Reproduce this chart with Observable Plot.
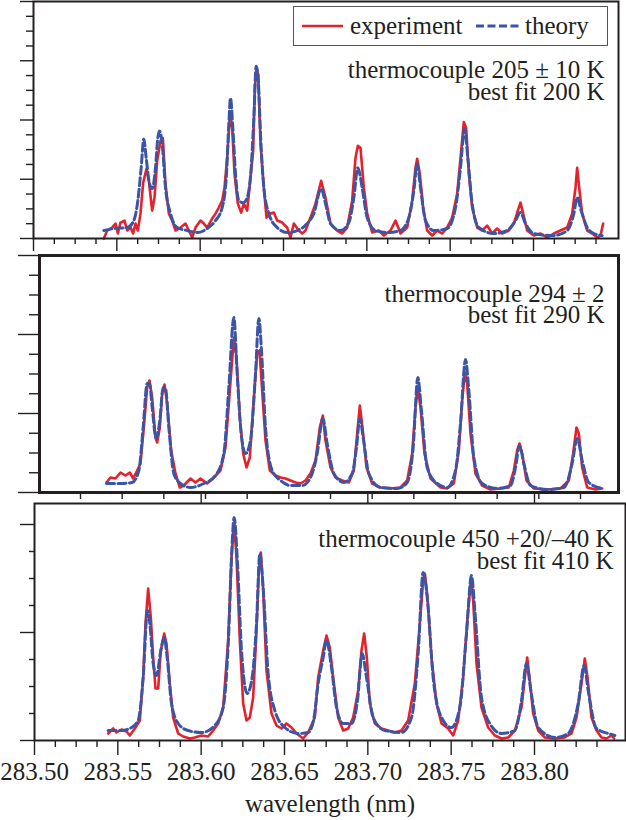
<!DOCTYPE html>
<html><head><meta charset="utf-8">
<script src="https://cdn.jsdelivr.net/npm/d3@7"></script>
<script src="https://cdn.jsdelivr.net/npm/@observablehq/plot@0.6"></script>
<style>
body{margin:0;background:#fff;}
#fig{position:relative;width:626px;height:820px;overflow:hidden;font-family:"Liberation Serif",serif;background:#fff;}
</style></head><body><div id="fig"></div>
<script>
// ---- data: [wavelength (nm), intensity (a.u.)] ----
const expA = [[283.5422,0],[283.5442,8],[283.5472,11],[283.5492,15],[283.5506,5],[283.5522,16],[283.5546,18],[283.5562,8],[283.5582,11],[283.5598,5],[283.5612,15],[283.5626,8],[283.5642,25],[283.5658,56],[283.5678,70],[283.5692,58],[283.5712,28],[283.5726,41],[283.5742,78],[283.5762,98],[283.5776,101],[283.5792,55],[283.5812,25],[283.5832,18],[283.5852,8],[283.5882,11],[283.5912,15],[283.5932,8],[283.5952,1],[283.5972,11],[283.6002,18],[283.6022,15],[283.6042,11],[283.6072,20],[283.6092,25],[283.6112,31],[283.6132,38],[283.6146,51],[283.6162,81],[283.6178,123],[283.6192,111],[283.6206,65],[283.6226,35],[283.6246,26],[283.6262,35],[283.6282,28],[283.6302,61],[283.6318,88],[283.6328,151],[283.6338,171],[283.6348,165],[283.6362,95],[283.6382,51],[283.6398,21],[283.6422,25],[283.6442,26],[283.6462,18],[283.6492,16],[283.6522,11],[283.6542,1],[283.6562,15],[283.6592,8],[283.6612,5],[283.6632,8],[283.6662,21],[283.6692,35],[283.6726,58],[283.6752,41],[283.6782,15],[283.6822,8],[283.6852,5],[283.6882,11],[283.6912,38],[283.6932,81],[283.6946,93],[283.6962,91],[283.6982,51],[283.7002,25],[283.7032,6],[283.7072,8],[283.7102,3],[283.7142,8],[283.7172,18],[283.7202,5],[283.7242,11],[283.7272,38],[283.7292,71],[283.7302,80],[283.7318,65],[283.7338,31],[283.7362,8],[283.7392,3],[283.7422,8],[283.7452,5],[283.7482,11],[283.7512,21],[283.7542,45],[283.7566,88],[283.7582,117],[283.7596,111],[283.7612,65],[283.7632,31],[283.7662,11],[283.7692,8],[283.7722,13],[283.7752,5],[283.7782,10],[283.7812,5],[283.7852,8],[283.7882,15],[283.7906,28],[283.7922,36],[283.7938,25],[283.7962,8],[283.8002,3],[283.8042,5],[283.8082,1],[283.8122,5],[283.8162,8],[283.8202,11],[283.8232,25],[283.8252,51],[283.8262,71],[283.8274,51],[283.8292,25],[283.8322,8],[283.8352,5],[283.8382,1],[283.8402,3],[283.8418,15]];
const theoA = [[283.5422,8],[283.5482,10],[283.5562,11],[283.5602,18],[283.5626,38],[283.5646,71],[283.5662,100],[283.5676,81],[283.5696,55],[283.5712,50],[283.5732,71],[283.5746,101],[283.5756,108],[283.5772,95],[283.5792,51],[283.5822,25],[283.5862,11],[283.5922,8],[283.5982,6],[283.6042,10],[283.6092,18],[283.6132,31],[283.6158,65],[283.6172,115],[283.6182,141],[283.6196,111],[283.6212,65],[283.6232,38],[283.6258,36],[283.6282,41],[283.6306,71],[283.6322,121],[283.6336,173],[283.6348,161],[283.6362,105],[283.6382,51],[283.6412,25],[283.6462,11],[283.6522,6],[283.6582,8],[283.6642,15],[283.6682,25],[283.6726,50],[283.6752,35],[283.6782,15],[283.6842,8],[283.6892,16],[283.6922,41],[283.6946,71],[283.6972,51],[283.7002,21],[283.7052,8],[283.7122,6],[283.7202,8],[283.7252,21],[283.7282,48],[283.7302,75],[283.7322,51],[283.7352,18],[283.7402,8],[283.7482,10],[283.7532,31],[283.7562,71],[283.7586,110],[283.7606,81],[283.7632,35],[283.7672,11],[283.7762,5],[283.7842,8],[283.7892,18],[283.7922,26],[283.7952,15],[283.8002,5],[283.8122,3],[283.8202,8],[283.8242,25],[283.8262,41],[283.8286,28],[283.8322,11],[283.8362,5],[283.8412,3]];
const expB = [[283.5438,10],[283.5462,15],[283.5492,14],[283.5522,20],[283.5552,17],[283.5578,20],[283.5598,14],[283.5622,22],[283.5642,29],[283.5662,65],[283.5682,105],[283.5696,112],[283.5712,95],[283.5732,55],[283.5742,50],[283.5758,65],[283.5772,99],[283.5786,108],[283.5802,89],[283.5826,42],[283.5852,19],[283.5878,5],[283.5902,7],[283.5942,14],[283.5972,10],[283.6002,14],[283.6042,9],[283.6082,15],[283.6122,22],[283.6152,45],[283.6178,102],[283.6202,155],[283.6218,135],[283.6238,75],[283.6258,39],[283.6278,25],[283.6298,35],[283.6318,85],[283.6342,139],[283.6356,142],[283.6372,102],[283.6392,52],[283.6418,22],[283.6452,17],[283.6482,15],[283.6512,14],[283.6542,12],[283.6572,10],[283.6602,9],[283.6632,12],[283.6662,19],[283.6692,32],[283.6718,65],[283.6736,77],[283.6752,52],[283.6782,25],[283.6812,15],[283.6852,12],[283.6892,10],[283.6922,22],[283.6942,59],[283.6958,87],[283.6974,65],[283.6998,25],[283.7032,9],[283.7082,5],[283.7142,4],[283.7202,5],[283.7242,12],[283.7272,39],[283.7292,85],[283.7306,105],[283.7322,85],[283.7346,39],[283.7382,14],[283.7442,5],[283.7482,4],[283.7522,9],[283.7552,42],[283.7572,92],[283.7588,120],[283.7602,109],[283.7622,59],[283.7652,19],[283.7692,7],[283.7742,3],[283.7802,4],[283.7852,5],[283.7882,22],[283.7902,42],[283.7916,49],[283.7932,39],[283.7958,12],[283.8002,4],[283.8082,3],[283.8162,4],[283.8212,12],[283.8238,39],[283.8258,65],[283.8272,59],[283.8292,25],[283.8322,5],[283.8372,3],[283.8412,4]];
const theoB = [[283.5438,9],[283.5522,9],[283.5592,10],[283.5632,22],[283.5658,65],[283.5682,109],[283.5696,109],[283.5712,85],[283.5736,54],[283.5758,72],[283.5778,105],[283.5792,104],[283.5812,65],[283.5842,19],[283.5882,9],[283.5942,5],[283.6022,9],[283.6092,17],[283.6142,39],[283.6172,105],[283.6202,175],[283.6222,119],[283.6246,59],[283.6272,39],[283.6302,52],[283.6332,119],[283.6352,174],[283.6368,142],[283.6392,65],[283.6432,22],[283.6482,12],[283.6542,7],[283.6612,7],[283.6662,15],[283.6702,39],[283.6736,74],[283.6762,49],[283.6802,19],[283.6862,10],[283.6912,19],[283.6938,45],[283.6958,74],[283.6978,55],[283.7012,19],[283.7082,5],[283.7182,4],[283.7242,10],[283.7278,45],[283.7306,115],[283.7326,85],[283.7362,25],[283.7422,9],[283.7482,5],[283.7532,22],[283.7562,69],[283.7592,133],[283.7612,102],[283.7642,35],[283.7692,9],[283.7782,4],[283.7862,7],[283.7892,25],[283.7916,47],[283.7942,29],[283.7982,7],[283.8082,3],[283.8182,5],[283.8232,29],[283.8262,54],[283.8292,32],[283.8332,10],[283.8412,4]];
const expC = [[283.5442,7],[283.5472,12],[283.5492,8],[283.5522,11],[283.5552,9],[283.5572,5],[283.5602,12],[283.5632,20],[283.5652,63],[283.5666,117],[283.5682,152],[283.5698,123],[283.5712,83],[283.5726,52],[283.5742,52],[283.5758,90],[283.5778,107],[283.5792,97],[283.5812,57],[283.5832,23],[283.5862,7],[283.5892,4],[283.5932,2],[283.5962,3],[283.6002,5],[283.6042,4],[283.6072,10],[283.6102,17],[283.6132,33],[283.6162,100],[283.6182,183],[283.6198,218],[283.6212,183],[283.6232,100],[283.6252,37],[283.6272,20],[283.6292,23],[283.6312,43],[283.6332,110],[283.6346,170],[283.6358,188],[283.6372,150],[283.6392,70],[283.6422,27],[283.6452,15],[283.6482,12],[283.6512,17],[283.6542,13],[283.6572,7],[283.6612,2],[283.6642,8],[283.6682,23],[283.6702,63],[283.6732,90],[283.6752,105],[283.6772,93],[283.6792,63],[283.6822,23],[283.6852,10],[283.6882,12],[283.6912,23],[283.6942,50],[283.6962,90],[283.6978,107],[283.6994,83],[283.7012,37],[283.7042,17],[283.7082,12],[283.7122,10],[283.7162,8],[283.7202,10],[283.7242,20],[283.7282,57],[283.7312,117],[283.7332,160],[283.7342,167],[283.7358,143],[283.7382,83],[283.7412,37],[283.7442,17],[283.7482,12],[283.7512,5],[283.7542,20],[283.7572,63],[283.7598,123],[283.7618,160],[283.7632,140],[283.7652,77],[283.7682,33],[283.7722,13],[283.7762,5],[283.7802,2],[283.7842,3],[283.7882,10],[283.7922,33],[283.7942,63],[283.7956,83],[283.7972,60],[283.7992,27],[283.8022,10],[283.8062,3],[283.8122,2],[283.8182,3],[283.8222,7],[283.8252,23],[283.8282,57],[283.8302,82],[283.8318,63],[283.8342,23],[283.8372,10],[283.8402,3],[283.8432,2],[283.8462,5],[283.8478,2]];
const theoC = [[283.5442,10],[283.5522,10],[283.5582,13],[283.5622,20],[283.5652,63],[283.5678,130],[283.5692,117],[283.5712,77],[283.5732,65],[283.5758,90],[283.5778,103],[283.5796,83],[283.5822,37],[283.5862,17],[283.5922,10],[283.6002,8],[283.6082,15],[283.6132,33],[283.6166,110],[283.6182,183],[283.6198,223],[283.6218,177],[283.6242,90],[283.6276,47],[283.6306,63],[283.6332,117],[283.6352,187],[283.6372,153],[283.6402,67],[283.6442,30],[283.6502,13],[283.6582,7],[283.6642,8],[283.6674,20],[283.6702,57],[283.6732,83],[283.6752,100],[283.6782,73],[283.6812,33],[283.6852,17],[283.6902,17],[283.6938,40],[283.6966,87],[283.6992,63],[283.7032,23],[283.7102,10],[283.7202,8],[283.7262,23],[283.7302,87],[283.7332,168],[283.7358,140],[283.7392,63],[283.7442,23],[283.7502,13],[283.7552,33],[283.7592,107],[283.7622,165],[283.7642,130],[283.7682,43],[283.7732,17],[283.7802,7],[283.7882,10],[283.7922,40],[283.7952,77],[283.7978,50],[283.8022,13],[283.8122,3],[283.8202,7],[283.8262,37],[283.8298,75],[283.8322,50],[283.8372,12],[283.8442,7],[283.8482,5]];

// ---- text ----
const seriesNames = ["experiment", "theory"];
const notesA = ["thermocouple 205 ± 10 K", "best fit 200 K"];
const notesB = ["thermocouple 294 ± 2", "best fit 290 K"];
const notesC = ["thermocouple 450 +20/–40 K", "best fit 410 K"];
const xLabel = "wavelength (nm)";
const majorX = [283.50, 283.55, 283.60, 283.65, 283.70, 283.75, 283.80];
const minorXStep = 0.0125;
const midTicksStart = 283.5282, midTicksStep = 0.025, midTicksCount = 13;
const topTicksC = [283.60, 283.70, 283.80];

// ---- style ----
const RED = "#e3222b", BLUE = "#3a55a5", INK = "#231f20";
const FONT = "'Liberation Serif', 'Times New Roman', serif";

const minorX = d3.range(0, 28).filter(i => i % 4 !== 0).map(i => 283.5 + i * minorXStep);
const midTicks = d3.range(midTicksCount).map(i => midTicksStart + i * midTicksStep);
const fmt = d3.format(".2f");
const blank = () => "";

function panel({top, mt, mb, ml, mr, inner, xDomain, yMax, yTicks, yMajorEvery, yMinorLen, yMajorLen, frameW, exp, theo, notes, noteDx, noteDy, extra}) {
  const yMinor = yTicks.filter((d, i) => i % yMajorEvery !== 0);
  const yMajor = yTicks.filter((d, i) => i % yMajorEvery === 0);
  const svg = Plot.plot({
    width: 626, height: mt + inner + mb,
    marginTop: mt, marginBottom: mb, marginLeft: ml, marginRight: mr,
    x: {domain: xDomain, label: null},
    y: {domain: [0, yMax], label: null},
    style: {background: "transparent", overflow: "visible", fontFamily: FONT, color: INK},
    marks: [
      Plot.axisY({ticks: yMinor, tickSize: yMinorLen, tickFormat: blank, label: null, stroke: INK, strokeWidth: 1.4}),
      Plot.axisY({ticks: yMajor, tickSize: yMajorLen, tickFormat: blank, label: null, stroke: INK, strokeWidth: 1.4}),
      ...extra,
      Plot.line(exp, {x: d => d[0], y: d => d[1], stroke: RED, strokeWidth: 2.6, strokeLinejoin: "round"}),
      Plot.line(theo, {x: d => d[0], y: d => d[1], stroke: BLUE, strokeWidth: 3, strokeDasharray: "8,3.5", curve: "monotone-x"}),
      Plot.frame({stroke: INK, strokeWidth: frameW}),
      Plot.text([notes[0]], {text: d => d, frameAnchor: "top-right", textAnchor: "end", lineAnchor: "top", dx: noteDx, dy: noteDy[0], fontSize: 25, fill: INK}),
      Plot.text([notes[1]], {text: d => d, frameAnchor: "top-right", textAnchor: "end", lineAnchor: "top", dx: noteDx, dy: noteDy[1], fontSize: 25, fill: INK})
    ]
  });
  svg.style.position = "absolute";
  svg.style.left = "0px";
  svg.style.top = top + "px";
  document.getElementById("fig").appendChild(svg);
  return svg;
}

// Panel A (top)
panel({top: 0, mt: 1, mb: 16, ml: 33, mr: 8, inner: 237,
  xDomain: [283.5, 283.5 + 585 * 0.0006], yMax: 238,
  yTicks: d3.range(17).map(i => i * 238 / 16), yMajorEvery: 4, yMinorLen: 7, yMajorLen: 13, frameW: 2,
  exp: expA, theo: theoA, notes: notesA, noteDx: -14, noteDy: [59, 81],
  extra: [
    Plot.axisX({ticks: minorX, tickSize: 6, tickFormat: blank, label: null, stroke: INK, strokeWidth: 1.4}),
    Plot.axisX({ticks: majorX, tickSize: 13, tickFormat: blank, label: null, stroke: INK, strokeWidth: 1.4})
  ]});

// Panel B (middle)
panel({top: 253, mt: 2, mb: 10, ml: 39, mr: 8, inner: 237,
  xDomain: [283.5 + 6 * 0.0006, 283.5 + 585 * 0.0006], yMax: 237,
  yTicks: d3.range(13).map(i => i * 237 / 12), yMajorEvery: 4, yMinorLen: 10, yMajorLen: 21, frameW: 3,
  exp: expB, theo: theoB, notes: notesB, noteDx: -14, noteDy: [29, 50],
  extra: [
    Plot.axisX({ticks: midTicks, tickSize: 7, tickFormat: blank, label: null, stroke: INK, strokeWidth: 1.4})
  ]});

// Panel C (bottom)
panel({top: 489, mt: 14, mb: 80, ml: 34, mr: 1, inner: 237,
  xDomain: [283.5, 283.5 + 591 * 0.0006], yMax: 237,
  yTicks: d3.range(9).map(i => i * 27), yMajorEvery: 4, yMinorLen: 5, yMajorLen: 14, frameW: 2,
  exp: expC, theo: theoC, notes: notesC, noteDx: -12, noteDy: [26, 48],
  extra: [
    Plot.axisX({anchor: "top", ticks: topTicksC, tickSize: 12, tickFormat: blank, label: null, stroke: INK, strokeWidth: 1.4}),
    Plot.axisX({ticks: minorX, tickSize: 7, tickFormat: blank, label: null, stroke: INK, strokeWidth: 1.4}),
    Plot.axisX({ticks: majorX, tickSize: 15, tickPadding: 7, tickFormat: fmt, label: null, stroke: INK, strokeWidth: 1.4, fontSize: 25, fill: INK}),
    Plot.text([xLabel], {text: d => d, frameAnchor: "bottom", lineAnchor: "top", dy: 54, fontSize: 25, fill: INK})
  ]});

// Legend box inside the top panel
const leg = document.createElement("div");
leg.style.cssText = "position:absolute;left:293px;top:6px;width:315px;height:40px;box-sizing:border-box;border:1.5px solid #555;background:#fff;";
leg.innerHTML = `<svg width="312" height="37" style="position:absolute;left:0;top:0;font-family:${FONT}">
  <line x1="8" x2="49" y1="19" y2="19" stroke="${RED}" stroke-width="2.6"/>
  <text x="56" y="27" font-size="25" fill="${INK}">${seriesNames[0]}</text>
  <line x1="182" x2="225" y1="19" y2="19" stroke="${BLUE}" stroke-width="3" stroke-dasharray="8,3.5"/>
  <text x="231" y="27" font-size="25" fill="${INK}">${seriesNames[1]}</text>
</svg>`;
document.getElementById("fig").appendChild(leg);
</script></body></html>
